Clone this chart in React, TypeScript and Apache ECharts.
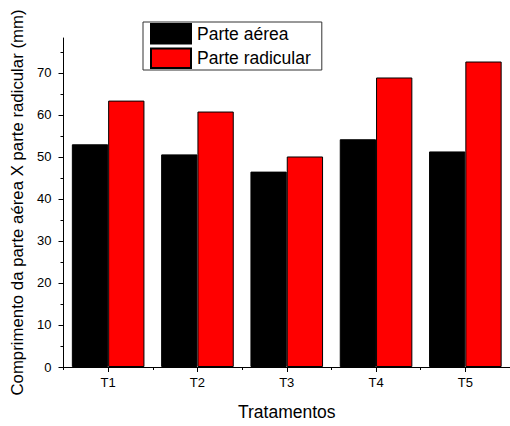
import React, { useEffect, useRef } from "react";
import * as echarts from "echarts";

const categories = ["T1", "T2", "T3", "T4", "T5"];
const parteAerea = [53.0, 50.6, 46.5, 54.2, 51.3];
const parteRadicular = [63.4, 60.8, 50.1, 68.9, 72.7];
const majorTicks = [0, 10, 20, 30, 40, 50, 60, 70];
const minorTicks = [5, 15, 25, 35, 45, 55, 65, 75];
const seriesNames = ["Parte aérea", "Parte radicular"];

const FONT = "'Liberation Sans', Arial, sans-serif";

export default function App() {
  const ref = useRef<HTMLDivElement>(null);
  useEffect(() => {
    if (!ref.current) return;
    const chart = echarts.init(ref.current, null, { renderer: "svg" });
    chart.setOption({
      animation: false,
      backgroundColor: "#ffffff",
      textStyle: { fontFamily: FONT },
      grid: { left: 63.5, top: 38, right: -6.5, bottom: 53.7, containLabel: false },
      legend: {
        orient: "vertical",
        left: 143,
        top: 22,
        padding: [1, 11, 1, 7],
        itemWidth: 40,
        itemHeight: 19.5,
        itemGap: 3,
        borderColor: "#333",
        borderWidth: 1,
        selectedMode: false,
        icon: "rect",
        textStyle: { fontFamily: FONT, fontSize: 17.5, color: "#000", padding: [0, 0, 0, 1] },
        data: seriesNames,
      },
      xAxis: [
        {
          type: "category",
          data: categories,
          name: "Tratamentos",
          nameLocation: "middle",
          nameGap: 36,
          nameTextStyle: { fontFamily: FONT, fontSize: 17.5, color: "#000" },
          axisLine: { show: true, lineStyle: { color: "#000", width: 1 } },
          axisTick: { show: true, alignWithLabel: true, length: 5, lineStyle: { color: "#000" } },
          axisLabel: { fontFamily: FONT, fontSize: 13, color: "#000", margin: 9 },
          splitLine: { show: false },
        },
        {
          type: "category",
          data: categories,
          position: "bottom",
          axisLine: { show: false },
          axisTick: { show: true, alignWithLabel: false, length: 3, lineStyle: { color: "#000" } },
          axisLabel: { show: false },
          splitLine: { show: false },
        },
      ],
      yAxis: [
        {
          type: "value",
          min: 0,
          max: 78.3,
          interval: 10,
          position: "left",
          name: "Comprimento da parte aérea X parte radicular (mm)",
          nameLocation: "middle",
          nameGap: 37,
          nameTextStyle: { fontFamily: FONT, fontSize: 16.8, color: "#000" },
          axisLine: { show: true, lineStyle: { color: "#000", width: 1 } },
          axisTick: { show: true, length: 5, customValues: majorTicks, lineStyle: { color: "#000" } },
          axisLabel: { fontFamily: FONT, fontSize: 13, color: "#000", margin: 12, customValues: majorTicks },
          splitLine: { show: false },
        },
        {
          type: "value",
          min: 0,
          max: 78.3,
          interval: 5,
          position: "left",
          axisLine: { show: false },
          axisTick: { show: true, length: 3, customValues: minorTicks, lineStyle: { color: "#000" } },
          axisLabel: { show: false },
          splitLine: { show: false },
        },
      ],
      series: [
        {
          name: seriesNames[0],
          type: "bar",
          data: parteAerea,
          xAxisIndex: 0,
          yAxisIndex: 0,
          barWidth: 36.3,
          barGap: "0%",
          itemStyle: { color: "#000000", borderColor: "#000", borderWidth: 1 },
        },
        {
          name: seriesNames[1],
          type: "bar",
          data: parteRadicular,
          xAxisIndex: 0,
          yAxisIndex: 0,
          barWidth: 36.3,
          barGap: "0%",
          itemStyle: { color: "#ff0000", borderColor: "#000", borderWidth: 1 },
        },
      ],
    });
    return () => chart.dispose();
  }, []);
  return (
    <div
      ref={ref}
      style={{ position: "absolute", left: 0, top: 0, width: 510, height: 426, background: "#fff" }}
    />
  );
}
